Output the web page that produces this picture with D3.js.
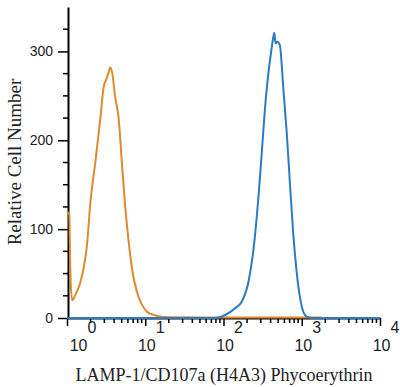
<!DOCTYPE html>
<html>
<head>
<meta charset="utf-8">
<script src="https://cdnjs.cloudflare.com/ajax/libs/d3/7.8.5/d3.min.js"></script>
<style>
    body { margin: 0; background: #fff; }
    .tick-label { font-family: "Liberation Sans", Arial, sans-serif; fill: #222; }
    .axis-title { font-family: "Liberation Serif", "Times New Roman", serif; font-size: 18px; fill: #222; }
    .curve { fill: none; stroke-width: 2; stroke-linejoin: round; }
</style>
</head>
<body>
<div id="chart"></div>
<script>
(function() {
    var width = 400,
        height = 387;

    //isotype control (orange) - fluorescence / cell count
    var controlX = [1.0, 1.07, 1.10, 1.16, 1.28, 1.48, 1.63, 1.80, 1.99, 2.30, 2.67, 2.94, 3.16, 3.41, 3.57, 3.76, 4.14, 4.57, 5.05, 5.56, 6.14, 6.76, 7.85, 9.08, 10.5, 12.9, 16.2, 25, 60, 200, 1000, 1800];
    var controlY = [120, 116, 56, 20, 26, 40, 56, 82, 130, 175, 225, 260, 268, 277, 282, 277, 248, 225, 172, 124, 86, 56, 29, 15, 7, 3.4, 1.5, 0.8, 0.6, 0.6, 0.6, 0.5];

    //LAMP-1 stained (blue)
    var stainedX = [1, 20, 77.6, 105, 141, 170, 209, 240, 279, 309, 339, 372, 407, 437, 445, 455, 466, 490, 525, 582, 646, 708, 776, 861, 955, 1047, 1202, 1479, 10000];
    var stainedY = [0, 0, 0, 3.4, 11, 18, 41, 75, 135, 187, 236, 273, 300, 318, 321, 314, 309, 311, 307, 258, 206, 150, 97, 52, 22, 7, 1, 0, 0];

    var yTicks = [0, 100, 200, 300];
    var xDecades = [1, 10, 100, 1000, 10000];
    var xExponents = ["0", "1", "2", "3", "4"];

    var svg = d3.select("#chart").append("svg")
        .attr("width", width)
        .attr("height", height);

    var xScale = d3.scaleLog()
        .domain([1, 10000])
        .range([67, 380]);

    var yScale = d3.scaleLinear()
        .domain([0, 350])
        .range([318, 7]);

    var line = d3.line()
        .x(function(d) { return xScale(d[0]); })
        .y(function(d) { return yScale(d[1]); })
        .curve(d3.curveMonotoneX);

    var controlData = controlX.map(function(x, i) { return [x, controlY[i]]; });
    var stainedData = stainedX.map(function(x, i) { return [x, stainedY[i]]; });

    // minor ticks 2..9 inside every decade
    var xMinor = [];
    for (var d = 0; d < xDecades.length - 1; d++) {
        for (var m = 2; m < 10; m++) xMinor.push(xDecades[d] * m);
    }
    var yMinor = d3.range(25, 350, 25).filter(function(v) { return v % 100 !== 0; });

    // axes
    var yAxis = svg.append("g")
        .attr("transform", "translate(68,0)")
        .call(d3.axisLeft(yScale).tickValues(yTicks).tickSize(10).tickSizeOuter(0).tickPadding(5));
    yAxis.selectAll(".tick text")
        .attr("class", "tick-label")
        .style("font-size", "14px");
    yAxis.selectAll("line.minor")
        .data(yMinor)
        .enter().append("line")
        .attr("class", "minor")
        .attr("stroke", "#000")
        .attr("x1", -5).attr("x2", 0)
        .attr("y1", function(v) { return yScale(v); })
        .attr("y2", function(v) { return yScale(v); });

    var xAxis = svg.append("g")
        .attr("transform", "translate(0,318)")
        .call(d3.axisBottom(xScale).tickValues(xDecades).tickSize(8).tickSizeOuter(0).tickFormat(""));
    xAxis.selectAll("line.minor")
        .data(xMinor)
        .enter().append("line")
        .attr("class", "minor")
        .attr("stroke", "#000")
        .attr("y1", 0).attr("y2", 5)
        .attr("x1", function(v) { return xScale(v); })
        .attr("x2", function(v) { return xScale(v); });

    svg.selectAll(".domain").attr("stroke-width", 2);
    svg.selectAll(".tick line, line.minor").attr("stroke-width", 1.5);

    // 10^n labels with superscript
    var xLabels = svg.append("g")
        .selectAll("text")
        .data(xDecades)
        .enter().append("text")
        .attr("class", "tick-label")
        .style("font-size", "16px")
        .attr("text-anchor", "middle")
        .attr("x", function(v, i) { return xScale(v) + (i === 0 ? 16 : 6); })
        .attr("y", 351);
    xLabels.append("tspan").text("10");
    xLabels.append("tspan")
        .attr("dy", -18)
        .text(function(v, i) { return xExponents[i]; });

    // curves
    svg.append("path")
        .datum(controlData)
        .attr("class", "curve")
        .attr("stroke", "#de8a2f")
        .attr("d", line);

    svg.append("path")
        .datum(stainedData)
        .attr("class", "curve")
        .attr("stroke", "#2c7bc1")
        .attr("d", line);

    // titles
    svg.append("text")
        .attr("class", "axis-title")
        .attr("text-anchor", "middle")
        .attr("x", 224)
        .attr("y", 381)
        .text("LAMP-1/CD107a (H4A3) Phycoerythrin");

    svg.append("text")
        .attr("class", "axis-title")
        .attr("text-anchor", "middle")
        .style("font-size", "19px")
        .attr("transform", "translate(21,162) rotate(-90)")
        .text("Relative Cell Number");
})();
</script>
</body>
</html>
